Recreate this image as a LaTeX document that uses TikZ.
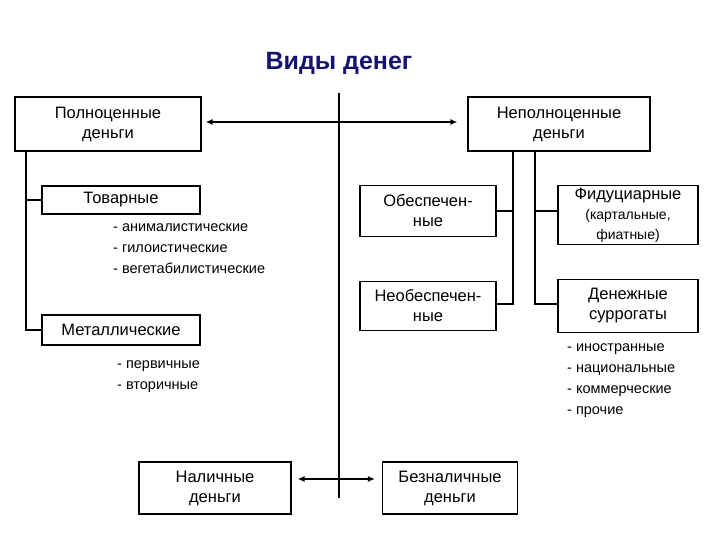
\documentclass[tikz,border=0pt]{standalone}
\usepackage{fontspec}
\setmainfont{Liberation Sans}
\usetikzlibrary{calc,arrows.meta}
\begin{document}
\begin{tikzpicture}[x=1pt,y=-1pt,
 box/.style={draw,line width=1.2pt,fill=white,inner sep=0pt,align=center,font=\fontsize{16.5}{20}\selectfont},
 lst/.style={anchor=north west,align=left,inner sep=0pt,font=\fontsize{14.5}{21}\selectfont},
 ln/.style={line width=1.2pt},
 ar/.style={line width=1.6pt,{Latex[length=7pt,width=6pt]}-{Latex[length=7pt,width=6pt]}}]
\useasboundingbox (0,0) rectangle (720,540);
\node[font=\bfseries\fontsize{25}{28}\selectfont,text={rgb,255:red,20;green,20;blue,110}] (t) at (339,63) {Виды денег};
\node[box,minimum width=186,minimum height=54] (pd) at (108,124) {Полноценные\\деньги};
\node[box,minimum width=158,minimum height=28] (tv) at (121,200) {Товарные};
\node[box,minimum width=158,minimum height=30] (mt) at (121,330) {Металлические};
\node[box,minimum width=182,minimum height=54] (nd) at (559,124) {Неполноценные\\деньги};
\node[box,minimum width=136,minimum height=51] (ob) at (428,211) {Обеспечен-\\ные};
\node[box,minimum width=136,minimum height=49] (no) at (428,306) {Необеспечен-\\ные};
\node[box,minimum width=140,minimum height=59] (fd) at (628,215) {Фидуциарные\\{\fontsize{14}{16}\selectfont(картальные,}\\{\fontsize{14}{16}\selectfont фиатные)}};
\node[box,minimum width=140,minimum height=53] (ds) at (628,306) {Денежные\\суррогаты};
\node[box,minimum width=152,minimum height=52] (nal) at (215,488) {Наличные\\деньги};
\node[box,minimum width=135,minimum height=52] (bez) at (450,488) {Безналичные\\деньги};
\node[lst] (l1) at (113,223) {- анималистические\\- гилоистические\\- вегетабилистические};
\node[lst] (l2) at (117,360) {- первичные\\- вторичные};
\node[lst] (l3) at (567,343) {- иностранные\\- национальные\\- коммерческие\\- прочие};
\coordinate (top) at (339,93);
\coordinate (bot) at (339,479);
\draw[ln] (top) -- (339,498);
\draw[ar] ($(pd.east |- 0,122)+(4,0)$) -- ($(nd.west |- 0,122)+(-10,0)$);
\draw[ar] ($(nal.east |- bot)+(6,0)$) -- ($(bez.west |- bot)+(-7,0)$);
\draw[ln] (pd.south -| 26,0) -- (26,330) -- (mt.west);
\draw[ln] (26,200) -- (tv.west);
\draw[ln] (nd.south -| 513,0) -- (513,304) -- (no.east |- 0,304);
\draw[ln] (513,211) -- (ob.east);
\draw[ln] (nd.south -| 535,0) -- (535,304) -- (ds.west |- 0,304);
\draw[ln] (535,211) -- (fd.west |- 0,211);
\end{tikzpicture}
\end{document}
